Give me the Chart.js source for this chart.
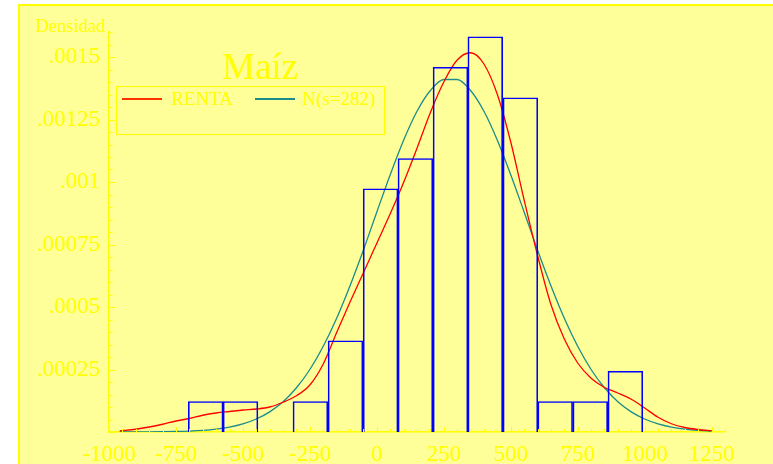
<!DOCTYPE html>
<html><head><meta charset="utf-8">
<script src="https://cdn.jsdelivr.net/npm/chart.js@4/dist/chart.umd.min.js"></script>
<style>
html,body{margin:0;padding:0;background:#fff;width:773px;height:464px;overflow:hidden;}
#frame{position:absolute;left:18px;top:3.5px;width:820px;height:520px;background:#FFFF99;border:2px solid #FFFF00;box-sizing:border-box;}
#wrap{position:absolute;left:0;top:0;width:773px;height:464px;}
.t{position:absolute;color:#FFFF00;font-family:"Liberation Serif","Times New Roman",serif;line-height:1;white-space:nowrap;}
.ln{position:absolute;height:1.5px;}
</style></head><body>
<div id="frame"></div>
<div id="wrap"><canvas id="c" width="773" height="464"></canvas></div>
<div class="t" style="left:0;width:105px;text-align:right;top:16.8px;font-size:18.5px;">Densidad</div>
<div class="t" style="left:222px;top:48.3px;font-size:37px;">Maíz</div>
<div style="position:absolute;left:116px;top:86px;width:269px;height:49px;border:1px solid #FFFF00;box-sizing:border-box;"></div>
<div class="ln" style="left:122px;top:98px;width:40px;background:#FF3300;"></div>
<div class="t" style="left:171px;top:89.1px;font-size:19px;">RENTA</div>
<div class="ln" style="left:255px;top:98px;width:40px;background:#1a8c8c;"></div>
<div class="t" style="left:302px;top:89.1px;font-size:19px;">N(s=282)</div>
<script>
const binCenters = [-639,-509,-378,-248,-117,14,144,275,405,536,666,797,928];
const binDensity = [0.000122,0.000122,null,0.000122,0.000365,0.000973,0.001094,0.001459,0.001581,0.001337,0.000122,0.000122,0.000243];
const curveX = [-960,-900,-850,-800,-750,-700,-650,-600,-550,-500,-450,-400,-350,-300,-250,-200,-150,-100,-50,
  0,50,100,150,200,250,300,350,400,450,500,550,600,650,700,750,800,850,900,950,1000,1050,1100,1150,1200,1250];
const rentaDensity = [0.000004,0.000011,0.000020,0.000031,0.000044,0.000054,0.000067,0.000076,0.000082,0.000088,0.000092,0.000100,0.000119,0.000145,0.000188,0.000272,0.000398,0.000520,0.000637,
  0.000755,0.000873,0.000998,0.001135,0.001278,0.001400,0.001488,0.001517,0.001472,0.001350,0.001160,0.000928,0.000707,0.000510,0.000372,0.000276,0.000215,0.000178,0.000156,0.000131,0.000096,0.000059,0.000033,0.000018,0.000010,0.000005];
const normalDensity = [0.0000001,0.0000002,0.0000005,0.000001,0.000002,0.0000036,0.0000065,0.0000115,0.0000196,0.0000324,0.0000519,0.0000806,0.000121,0.000177,0.00025,0.000343,0.000455,0.000585,0.000728,
  0.00088,0.001029,0.001167,0.001283,0.001366,0.00141,0.00141,0.001366,0.001283,0.001167,0.001029,0.00088,0.000728,0.000585,0.000455,0.000343,0.00025,0.000177,0.000121,0.0000806,0.0000519,0.0000324,0.0000196,0.0000115,0.0000065,0.0000036];
const xTickValues = [-1000,-750,-500,-250,0,250,500,750,1000,1250];
const xTickLabels = ['-1000','-750','-500','-250','0','250','500','750','1000','1250'];
const yTickValues = [0.00025,0.0005,0.00075,0.001,0.00125,0.0015];
const yTickLabels = ['.00025','.0005','.00075','.001','.00125','.0015'];

const tickPlugin = {
  id:'minorTicks',
  afterDraw(chart){
    const {ctx, chartArea:a, scales:{x,y}} = chart;
    ctx.save();
    ctx.strokeStyle='#FFFF00'; ctx.lineWidth=1;
    ctx.beginPath();
    for(let k=0;k<=46;k++){
      const v=-1000+50*k;
      const px=Math.round(x.getPixelForValue(v))+0.5;
      const len=(k%5===0)?5:3;
      ctx.moveTo(px,a.bottom); ctx.lineTo(px,a.bottom-len);
    }
    for(let k=0;k<=32;k++){
      const py=Math.round(y.getPixelForValue(k*0.00005))+0.5;
      const len=(k%5===0)?6:3.5;
      ctx.moveTo(a.left,py); ctx.lineTo(a.left+len,py);
    }
    ctx.stroke();
    ctx.restore();
  }
};

const font = {family:'"Liberation Serif", "Times New Roman", serif', size:23};
new Chart(document.getElementById('c'), {
  type:'bar',
  data:{
    datasets:[
      {type:'line', label:'RENTA', data:curveX.map((x,i)=>({x, y:rentaDensity[i]})), borderColor:'#FF0000', borderWidth:1.3, pointRadius:0, fill:false, cubicInterpolationMode:'monotone', order:2},
      {type:'line', label:'N(s=282)', data:curveX.map((x,i)=>({x, y:normalDensity[i]})), borderColor:'#1a8c8c', borderWidth:1.3, pointRadius:0, fill:false, cubicInterpolationMode:'monotone', order:3},
      {type:'bar', label:'hist', data:binCenters.map((x,i)=>({x, y:binDensity[i]})), borderColor:'#0000FF', backgroundColor:'rgba(0,0,0,0)', borderWidth:1, barPercentage:1, categoryPercentage:1, order:1}
    ]
  },
  options:{
    responsive:false, animation:false, devicePixelRatio:1,
    layout:{padding:{left:0,right:48,top:32,bottom:0}},
    plugins:{legend:{display:false}, tooltip:{enabled:false}, title:{display:false}},
    scales:{
      x:{type:'linear', min:-1000, max:1300, offset:false,
        grid:{display:false, drawTicks:false, offset:false},
        border:{display:true, color:'#FFFF00', width:1.5},
        afterBuildTicks:(s)=>{ s.ticks = xTickValues.map(v=>({value:v})); },
        ticks:{autoSkip:false, maxRotation:0, minRotation:0, padding:9, color:'#FFFF00', font,
          callback:(v,i)=>xTickLabels[i]},
        afterFit:(s)=>{s.height=32;}
      },
      y:{type:'linear', min:0, max:0.0016,
        grid:{display:false, drawTicks:false},
        border:{display:true, color:'#FFFF00', width:1.5},
        afterBuildTicks:(s)=>{ s.ticks = yTickValues.map(v=>({value:v})); },
        ticks:{autoSkip:false, padding:9, color:'#FFFF00', font,
          callback:(v,i)=>yTickLabels[i]},
        afterFit:(s)=>{s.width=109;}
      }
    }
  },
  plugins:[tickPlugin]
});
</script>
</body></html>
